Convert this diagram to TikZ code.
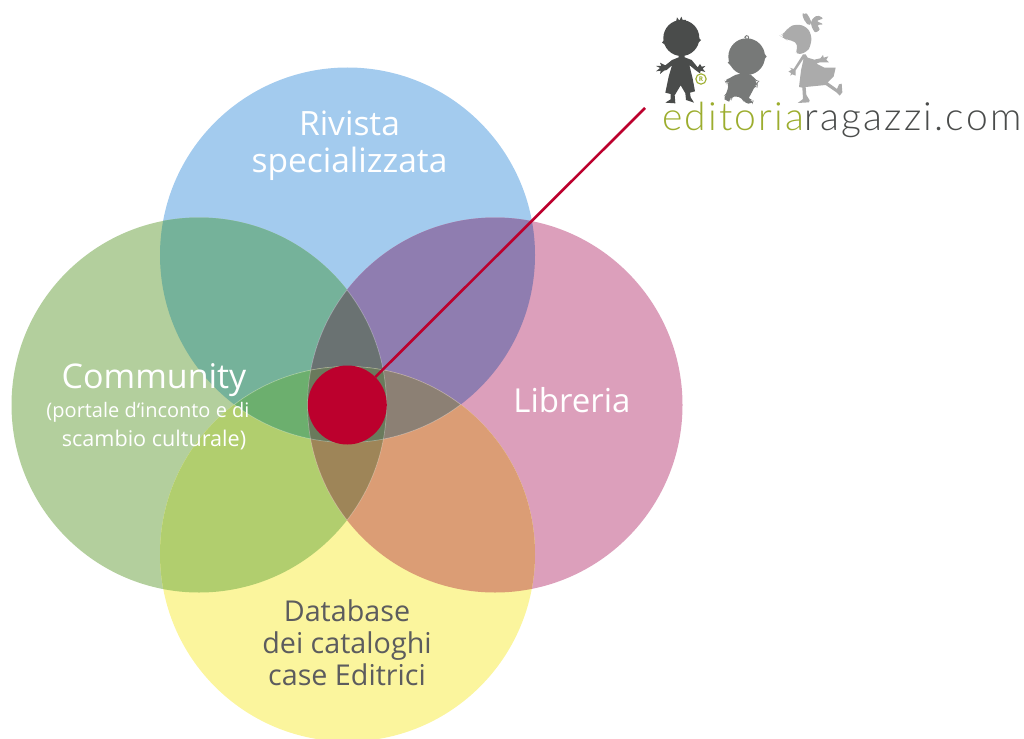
\documentclass[tikz,border=0pt]{standalone}
\usepackage{fontspec}
\setmainfont{Open Sans}
\newfontfamily\logofont[LetterSpace=5.7]{Lato Light}
\definecolor{cT}{HTML}{A3CBEE}
\definecolor{cL}{HTML}{B3CF9D}
\definecolor{cR}{HTML}{DC9FBB}
\definecolor{cB}{HTML}{FBF59D}
\definecolor{cTL}{HTML}{75B29A}
\definecolor{cTR}{HTML}{8F7DB0}
\definecolor{cLB}{HTML}{B1CE6E}
\definecolor{cRB}{HTML}{DB9D75}
\definecolor{cTLR}{HTML}{6A7272}
\definecolor{cTLB}{HTML}{6CAF6E}
\definecolor{cTRB}{HTML}{8C8074}
\definecolor{cLRB}{HTML}{9E8558}
\definecolor{cAll}{HTML}{6A7A5C}
\definecolor{crim}{HTML}{BC002D}
\definecolor{logog}{HTML}{9CAD2E}
\definecolor{logod}{HTML}{4A4C4B}
\definecolor{logom}{HTML}{777978}
\definecolor{logol}{HTML}{ABABAB}
\definecolor{txtd}{HTML}{5C5C5E}
\newcommand{\cT}{(347.5,255) circle[radius=187.5]}
\newcommand{\cL}{(199,405) circle[radius=187.5]}
\newcommand{\cR}{(495,405) circle[radius=187.5]}
\newcommand{\cB}{(347.5,554) circle[radius=187.5]}
\tikzset{
  lab/.style={align=center,inner sep=0pt,text=white},
  labd/.style={align=center,inner sep=0pt,text=txtd},
  seam/.style={draw=white,draw opacity=.3,line width=.7pt},
}
\begin{document}
\begin{tikzpicture}[x=1pt,y=-1pt]
\useasboundingbox (0,0) rectangle (1024,738);
\clip (0,0) rectangle (1024,738);
\fill[cT] \cT; \fill[cL] \cL; \fill[cR] \cR; \fill[cB] \cB;
\begin{scope}\clip \cT; \fill[cTL] \cL; \fill[cTR] \cR;
  \begin{scope}\clip \cL; \fill[cTLR] \cR; \end{scope}
\end{scope}
\begin{scope}\clip \cB; \fill[cLB] \cL; \fill[cRB] \cR;
  \begin{scope}\clip \cL; \fill[cLRB] \cR; \end{scope}
  \begin{scope}\clip \cT; \fill[cTLB] \cL; \fill[cTRB] \cR;
    \begin{scope}\clip \cL; \fill[cAll] \cR; \end{scope}
  \end{scope}
\end{scope}
\begin{scope}\clip \cR; \path[seam] \cL; \end{scope}
\begin{scope}\clip \cL; \path[seam] \cR; \end{scope}
\begin{scope}\clip \cT; \path[seam] \cB; \end{scope}
\begin{scope}\clip \cB; \path[seam] \cT; \end{scope}
\node (crimdot) [circle,fill=crim,minimum size=79pt,inner sep=0pt] at (347.3,405) {};
\coordinate (lineend) at (645,108);
\draw[crim,line width=2.6pt] (crimdot) -- (lineend);
\node (rivista) [lab,font=\fontsize{33.5}{37}\selectfont] at (349.5,145.5) {Rivista\\specializzata};
\node (community) [lab,font=\fontsize{34}{40}\selectfont] at (154,380) {Community};
\node (community2) [lab,font=\fontsize{20}{29}\selectfont] at (148,426) {(portale d‘inconto e di\\\hspace*{12pt}\fontsize{21.6}{29}\selectfont scambio culturale)};
\node (libreria) [lab,font=\fontsize{33}{40}\selectfont] at (572,400) {Libreria};
\node (database) [labd,font=\fontsize{28.7}{32}\selectfont] at (347,642.5) {Database\\dei cataloghi\\case Editrici};
\node (logo) [anchor=base west,inner sep=0pt,font=\logofont\fontsize{39}{39}\selectfont,text=logod] at (662,131) {\textcolor{logog}{editoria}ragazzi.com};
% boy
\begin{scope}[shift={(650,10)},scale=1/3]
\fill[logod] (94,84) circle[radius=54];
\fill[logod] (42,90)--(36,98)--(45,104)--cycle;
\fill[logod] (146,84)--(153,90)--(145,98)--cycle;
\fill[logod] (78,36)--(81,22)--(88,32)--(94,20)--(98,30)--(108,30)--(106,42)--cycle;
\fill[logod] (85,130)--(86,142)--(66,150)--(46,166)--(30,158)--(34,168)--(18,168)--(30,174)--(18,184)--(32,182)--(30,192)--(42,182)--(50,180)--(66,166)--(56,200)--(46,248)--(62,252)--(62,268)--(46,278)--(76,280)--(74,256)--(92,226)--(106,250)--(108,270)--(132,278)--(122,262)--(120,248)--(135,244)--(128,206)--(118,165)--(136,180)--(150,190)--(152,182)--(166,186)--(158,176)--(166,168)--(155,170)--(150,162)--(143,172)--(125,150)--(104,142)--(104,130)--cycle;
\draw[logog,line width=1.1pt] (153,207) circle[radius=15.5];
\node (regmark) [inner sep=0pt,text=logog,font=\fontsize{6.5}{6.5}\selectfont\bfseries] at (153,207) {R};
\end{scope}
% toddler
\begin{scope}[shift={(715,30)},scale=1/3]
\fill[logom] (95,80) circle[radius=55];
\fill[logom] (44,92)--(38,98)--(48,108)--cycle;
\fill[logom] (148,70)--(155,80)--(146,90)--cycle;
\draw[logom,line width=.9pt] (93,28)--(95,32) .. controls (104,28) and (102,16) .. (94,17) .. controls (88,18) and (88,26) .. (94,25);
\fill[logom,rounded corners=4pt] (62,132)--(110,132)--(122,152)--(130,154)--(124,160)--(128,172)--(118,166)--(112,190)--(98,200)--(102,208)--(116,212)--(112,222)--(88,220)--(82,204)--(62,198)--(48,200)--(50,212)--(34,216)--(24,200)--(36,192)--(38,170)--(44,158)--(34,162)--(28,150)--(44,146)--cycle;
\end{scope}
% girl
\begin{scope}[shift={(775,5)},scale=1/3]
\fill[logol,rounded corners=5pt] (14,92)--(30,84)--(40,66)--(65,57)--(95,65)--(110,90)--(108,120)--(96,142)--(60,150)--(68,130)--(64,108)--(36,106)--(26,98)--cycle;
\fill[logol,rounded corners=2pt] (100,62)--(84,40)--(82,22)--(92,30)--(93,22)--(106,42)--(110,58)--cycle;
\fill[logol,rounded corners=2pt] (108,62)--(108,46)--(126,30)--(146,40)--(124,48)--(146,58)--(126,60)--(136,74)--(120,84)--cycle;
\fill[logol] (84,148)--(92,148)--(98,158)--(118,164)--(136,160)--(144,150)--(146,158)--(160,154)--(154,164)--(162,172)--(146,172)--(134,172)--(124,176)--(148,188)--(182,188)--(176,214)--(158,232)--(186,252)--(192,238)--(200,236)--(202,262)--(194,272)--(184,262)--(152,240)--(92,246)--(94,270)--(104,286)--(102,292)--(68,294)--(84,282)--(82,248)--(72,246)--(78,196)--(86,160)--(62,196)--(62,212)--(52,208)--(46,212)--(48,204)--(40,200)--(50,194)--(44,188)--(56,192)--cycle;
\end{scope}
\end{tikzpicture}
\end{document}
